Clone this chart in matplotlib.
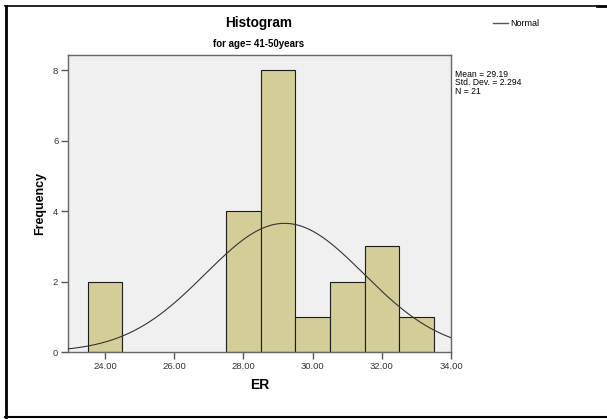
import numpy as np
import matplotlib.pyplot as plt
from matplotlib.lines import Line2D

plt.rcParams["font.family"] = ["Liberation Sans", "DejaVu Sans"]

# histogram data (bin centres, width 1)
bin_centers = [24, 28, 29, 30, 31, 32, 33]
counts = [2, 4, 8, 1, 2, 3, 1]
mean = 29.19
std_dev = 2.294
n = 21
xticks = [24, 26, 28, 30, 32, 34]
yticks = [0, 2, 4, 6, 8]

W, H = 607, 419
fig = plt.figure(figsize=(W / 100, H / 100), dpi=100)
ax = fig.add_axes([68 / W, 1 - 352 / H, (451 - 68) / W, (352 - 55) / H])
ax.set_facecolor("#f0f0f0")

ax.bar(bin_centers, counts, width=1.0, color="#d3ce97", edgecolor="#1a1a1a",
       linewidth=0.8, zorder=2)

# fitted normal curve scaled to counts
xs = np.linspace(22.9, 34.1, 300)
pdf = n * 1.0 / (std_dev * np.sqrt(2 * np.pi)) * np.exp(-0.5 * ((xs - mean) / std_dev) ** 2)
ax.plot(xs, pdf, color="#333333", linewidth=0.8, zorder=3)

ax.set_xlim(22.93, 34.0)
ax.set_ylim(0, 8.43)
ax.set_xticks(xticks)
ax.set_xticklabels(["%.2f" % t for t in xticks])
ax.set_yticks(yticks)
ax.tick_params(length=5, width=1, color="#555555", labelsize=6.8, labelcolor="#333333", pad=2)
for s in ax.spines.values():
    s.set_color("#666666")
    s.set_linewidth(1)

ax.set_xlabel("ER", fontsize=10, fontweight="bold", labelpad=5)
ax.set_ylabel("Frequency", fontsize=9, fontweight="bold", labelpad=5)

fig.text(259 / W, 1 - 23 / H, "Histogram", ha="center", va="center", fontsize=9.8, fontweight="bold")
fig.text(259 / W, 1 - 44 / H, "for age= 41-50years", ha="center", va="center", fontsize=7, fontweight="bold")

# legend
fig.add_artist(Line2D([493 / W, 508 / W], [1 - 23 / H, 1 - 23 / H], color="#555555", linewidth=1))
fig.text(510 / W, 1 - 23 / H, "Normal", ha="left", va="center", fontsize=6.5)

fig.text(455 / W, 1 - 70 / H, "Mean = %.2f\nStd. Dev. = %.3f\nN = %d" % (mean, std_dev, n),
         ha="left", va="top", fontsize=6.2, linespacing=0.9)

# outer frame
fig.add_artist(Line2D([6 / W, 6 / W], [1 - 6 / H, 1 - 417 / H], color="black", linewidth=2))
fig.add_artist(Line2D([5 / W, 597 / W], [1 - 6 / H, 1 - 6 / H], color="black", linewidth=1.2))
fig.add_artist(Line2D([597 / W, 1], [1 - 6.5 / H, 1 - 6.5 / H], color="black", linewidth=2))
fig.add_artist(Line2D([5 / W, 1], [1 - 416.5 / H, 1 - 416.5 / H], color="black", linewidth=1.5))

fig.savefig("out.png", dpi=100)
